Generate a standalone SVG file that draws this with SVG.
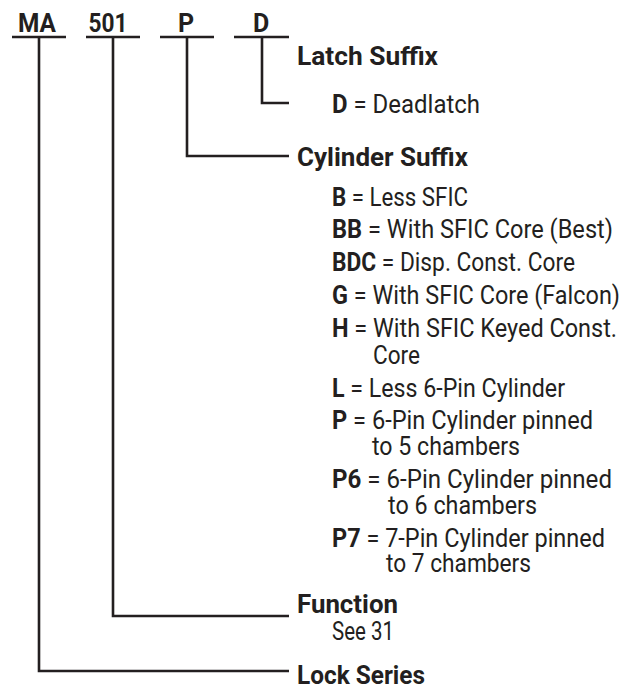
<svg xmlns="http://www.w3.org/2000/svg" width="621" height="685" viewBox="0 0 621 685">
<style>
text{font-family:Roboto,"Liberation Sans",sans-serif;font-size:25px;fill:#231f20}
.b{font-weight:700}
.r{font-weight:400}
.code{font-weight:700;text-anchor:middle}
.ln{fill:none;stroke:#231f20;stroke-width:2.6}
</style>
<rect width="621" height="685" fill="#fff"/>
<g id="code">
<text class="code" x="37" y="32" textLength="38" lengthAdjust="spacingAndGlyphs">MA</text>
<text class="code" x="108" y="32" textLength="39" lengthAdjust="spacingAndGlyphs">501</text>
<text class="code" x="186" y="32">P</text>
<text class="code" x="261" y="32">D</text>
</g>
<g id="connectors">
<path class="ln" d="M12 37H66M86 37H140M160 37H214M234 37H289"/>
<path class="ln" d="M262 37V103H289"/>
<path class="ln" d="M187 37V156H289"/>
<path class="ln" d="M113 37V616H289"/>
<path class="ln" d="M39 37V671H289"/>
</g>
<g id="latch">
<text class="b" x="297" y="65" textLength="141" lengthAdjust="spacingAndGlyphs">Latch Suffix</text>
<text x="332" y="113" textLength="148" lengthAdjust="spacingAndGlyphs"><tspan class="b">D</tspan><tspan class="r"> = Deadlatch</tspan></text>
</g>
<g id="cylinder">
<text class="b" x="297" y="166" textLength="171" lengthAdjust="spacingAndGlyphs">Cylinder Suffix</text>
<text x="332" y="206" textLength="136" lengthAdjust="spacingAndGlyphs"><tspan class="b">B</tspan><tspan class="r"> = Less SFIC</tspan></text>
<text x="332" y="238" textLength="281" lengthAdjust="spacingAndGlyphs"><tspan class="b">BB</tspan><tspan class="r"> = With SFIC Core (Best)</tspan></text>
<text x="332" y="271" textLength="243" lengthAdjust="spacingAndGlyphs"><tspan class="b">BDC</tspan><tspan class="r"> = Disp. Const. Core</tspan></text>
<text x="332" y="304" textLength="288" lengthAdjust="spacingAndGlyphs"><tspan class="b">G</tspan><tspan class="r"> = With SFIC Core (Falcon)</tspan></text>
<text x="332" y="337" textLength="285" lengthAdjust="spacingAndGlyphs"><tspan class="b">H</tspan><tspan class="r"> = With SFIC Keyed Const.</tspan></text>
<text class="r" x="373" y="364" textLength="47" lengthAdjust="spacingAndGlyphs">Core</text>
<text x="332" y="397" textLength="233" lengthAdjust="spacingAndGlyphs"><tspan class="b">L</tspan><tspan class="r"> = Less 6-Pin Cylinder</tspan></text>
<text x="332" y="429" textLength="261" lengthAdjust="spacingAndGlyphs"><tspan class="b">P</tspan><tspan class="r"> = 6-Pin Cylinder pinned</tspan></text>
<text class="r" x="372" y="455" textLength="148" lengthAdjust="spacingAndGlyphs">to 5 chambers</text>
<text x="332" y="488" textLength="280" lengthAdjust="spacingAndGlyphs"><tspan class="b">P6</tspan><tspan class="r"> = 6-Pin Cylinder pinned</tspan></text>
<text class="r" x="388" y="514" textLength="149" lengthAdjust="spacingAndGlyphs">to 6 chambers</text>
<text x="332" y="547" textLength="273" lengthAdjust="spacingAndGlyphs"><tspan class="b">P7</tspan><tspan class="r"> = 7-Pin Cylinder pinned</tspan></text>
<text class="r" x="386" y="572" textLength="145" lengthAdjust="spacingAndGlyphs">to 7 chambers</text>
</g>
<g id="function">
<text class="b" x="297" y="613" textLength="101" lengthAdjust="spacingAndGlyphs">Function</text>
<text class="r" x="332" y="640" textLength="62" lengthAdjust="spacingAndGlyphs">See 31</text>
</g>
<g id="series">
<text class="b" x="297" y="684" textLength="128" lengthAdjust="spacingAndGlyphs">Lock Series</text>
</g>
</svg>
